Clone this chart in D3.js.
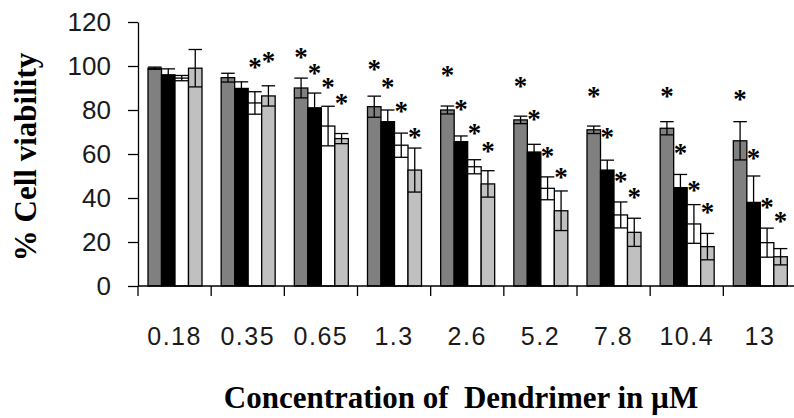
<!DOCTYPE html>
<html>
<head>
<meta charset="utf-8">
<script src="https://cdn.jsdelivr.net/npm/d3@7"></script>
<style>
  body { margin: 0; background: #fff; }
  svg { display: block; }
</style>
</head>
<body>
<div id="chart"></div>
<script>
const width = 794;
const height = 418;

// concentrations (µM)
const concentrations = ["0.18", "0.35", "0.65", "1.3", "2.6", "5.2", "7.8", "10.4", "13"];
const series = ["s1", "s2", "s3", "s4"];
const seriesColors = ["#808080", "#000000", "#ffffff", "#c0c0c0"];

// % cell viability, mean and error per series
const s1Values = [99, 94.7, 90, 81.5, 80, 75.5, 71, 71.7, 66];
const s1Errors = [0.5, 2, 4.5, 4.8, 1.8, 1.7, 1.7, 3, 8.7];
const s2Values = [96, 89.8, 81, 74.7, 65.6, 60.9, 52.7, 44.7, 38];
const s2Errors = [2.7, 3, 6.7, 5.3, 2.6, 3.5, 4.5, 6, 12];
const s3Values = [94.5, 83.2, 72.7, 64, 54.2, 44.4, 32.3, 28.2, 19.7];
const s3Errors = [1.2, 5.1, 9, 5.5, 3.2, 5.2, 5.9, 8.8, 6.6];
const s4Values = [99, 86.4, 67, 52.7, 46.4, 34.2, 24.4, 17.9, 13.3];
const s4Errors = [8.5, 4.6, 2.3, 10, 6, 9, 6.4, 6, 3.7];

// level of the significance mark (*) in % units, null = none
const s1Stars = [null, null, 105.8, 100.5, 97.7, 92.9, 88.3, 88.3, 86.8];
const s2Stars = [null, null, 98.5, 92.4, 82.3, 77.7, 69.4, 62.1, 60];
const s3Stars = [null, 101.5, 92.4, 81.5, 71.2, 61, 49.4, 45.6, 37.6];
const s4Stars = [null, 104.2, 84.9, 69.4, 63, 51.2, 42.1, 35.6, 31.2];

const yTicks = [0, 20, 40, 60, 80, 100, 120];

const allValues = [s1Values, s2Values, s3Values, s4Values];
const allErrors = [s1Errors, s2Errors, s3Errors, s4Errors];
const allStars = [s1Stars, s2Stars, s3Stars, s4Stars];

const rows = [];
series.forEach((s, i) => {
  concentrations.forEach((c, j) => {
    rows.push({ conc: c, series: s, value: allValues[i][j], err: allErrors[i][j], star: allStars[i][j], color: seriesColors[i] });
  });
});

const svg = d3.select("#chart")
  .append("svg")
  .attr("width", width)
  .attr("height", height);

const x0 = d3.scaleBand()
  .domain(concentrations)
  .range([138, 796.5])
  .padding(0);

const x1 = d3.scaleBand()
  .domain(series)
  .range([10, 64])
  .padding(0);

const y = d3.scaleLinear()
  .domain([0, 120])
  .range([286, 22]);

const bw = x1.bandwidth();
const cx = d => x0(d.conc) + x1(d.series) + bw / 2;

// bars
svg.append("g")
  .selectAll("rect")
  .data(rows)
  .join("rect")
  .attr("x", d => x0(d.conc) + x1(d.series))
  .attr("y", d => y(d.value))
  .attr("width", bw)
  .attr("height", d => y(0) - y(d.value))
  .attr("fill", d => d.color)
  .attr("stroke", "#000")
  .attr("stroke-width", 1.3);

// error bars
const eb = svg.append("g")
  .attr("stroke", "#000")
  .attr("stroke-width", 1.3)
  .selectAll("g")
  .data(rows)
  .join("g");

eb.append("line")
  .attr("x1", cx).attr("x2", cx)
  .attr("y1", d => y(d.value - d.err))
  .attr("y2", d => y(d.value + d.err));

eb.append("line")
  .attr("x1", d => cx(d) - bw / 2).attr("x2", d => cx(d) + bw / 2)
  .attr("y1", d => y(d.value + d.err))
  .attr("y2", d => y(d.value + d.err));

eb.append("line")
  .attr("x1", d => cx(d) - bw / 2).attr("x2", d => cx(d) + bw / 2)
  .attr("y1", d => y(d.value - d.err))
  .attr("y2", d => y(d.value - d.err));

// stars
svg.append("g")
  .selectAll("text")
  .data(rows.filter(d => d.star != null))
  .join("text")
  .attr("x", cx)
  .attr("y", d => y(d.star) + 13)
  .attr("text-anchor", "middle")
  .style("font-family", "'Liberation Serif', serif")
  .style("font-weight", "bold")
  .style("font-size", "27px")
  .text("*");

// y axis
const yAxis = svg.append("g")
  .attr("transform", "translate(138,0)")
  .call(d3.axisLeft(y).tickValues(yTicks).tickSize(10).tickPadding(17).tickSizeOuter(0));

yAxis.select(".domain").attr("stroke-width", 1.3);
yAxis.selectAll(".tick line").attr("stroke-width", 1.3);
yAxis.selectAll("text")
  .style("font-family", "'Liberation Sans', Arial, sans-serif")
  .style("font-size", "26px")
  .attr("fill", "#1a1a1a");

// x axis
const xAxis = svg.append("g")
  .attr("transform", "translate(0,286)");

xAxis.append("line")
  .attr("x1", 138).attr("x2", 796.5)
  .attr("stroke", "#000")
  .attr("stroke-width", 1.3);

xAxis.selectAll(".xtick")
  .data(concentrations)
  .join("line")
  .attr("class", "xtick")
  .attr("x1", d => x0(d)).attr("x2", d => x0(d))
  .attr("y1", 0).attr("y2", 10)
  .attr("stroke", "#000")
  .attr("stroke-width", 1.3);

xAxis.selectAll(".xlabel")
  .data(concentrations)
  .join("text")
  .attr("class", "xlabel")
  .attr("x", d => x0(d) + x0.bandwidth() / 2)
  .attr("y", 59)
  .attr("text-anchor", "middle")
  .style("font-family", "'Liberation Sans', Arial, sans-serif")
  .style("font-size", "25px")
  .style("letter-spacing", "1.5px")
  .attr("fill", "#1a1a1a")
  .text(d => d);

// axis titles
svg.append("text")
  .attr("transform", "translate(36,157) rotate(-90)")
  .attr("text-anchor", "middle")
  .style("font-family", "'Liberation Serif', 'Times New Roman', serif")
  .style("font-weight", "bold")
  .style("font-size", "31px")
  .text("% Cell viability");

svg.append("text")
  .attr("x", 461)
  .attr("y", 408)
  .attr("text-anchor", "middle")
  .style("font-family", "'Liberation Serif', 'Times New Roman', serif")
  .style("font-weight", "bold")
  .style("font-size", "31px")
  .style("white-space", "pre")
  .text("Concentration of  Dendrimer in µM");
</script>
</body>
</html>
